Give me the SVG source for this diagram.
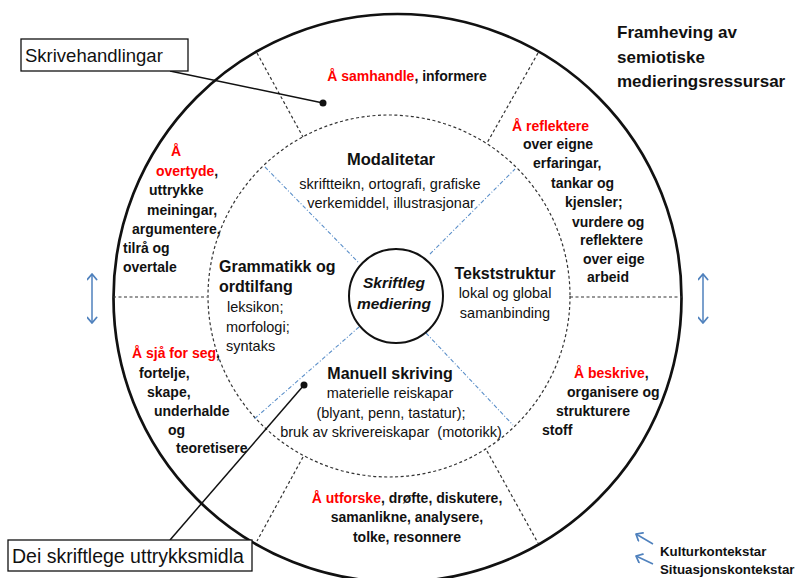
<svg xmlns="http://www.w3.org/2000/svg" width="798" height="578" viewBox="0 0 798 578">
<style>
text{font-family:"Liberation Sans",Arial,sans-serif;fill:#111}
.ob{font-weight:bold;font-size:14px}
.red{fill:#ff0000}
.ib{font-weight:bold;font-size:16px}
.ir{font-size:14.5px}
.ti{font-weight:bold;font-size:17px}
.lg{font-weight:bold;font-size:13.3px}
.dash{fill:none;stroke:#333;stroke-width:1.2;stroke-dasharray:3 2.5}
.blue{fill:none;stroke:#5b8fc9;stroke-width:1.1;stroke-dasharray:4 2 1 2}
.arr{fill:none;stroke:#4f81bd;stroke-width:1.5}
.box{fill:#fff;stroke:#111;stroke-width:1.3}
.ptr{fill:none;stroke:#111;stroke-width:1.5}
</style>
<defs>
<marker id="chev" viewBox="0 0 10 10" refX="9" refY="5" markerWidth="11" markerHeight="11" orient="auto-start-reverse" markerUnits="userSpaceOnUse">
<path d="M4,0.8 L9,5 L4,9.2" fill="none" stroke="#4f81bd" stroke-width="1.6" stroke-linecap="round" stroke-linejoin="round"/>
</marker>
</defs>
<rect width="798" height="578" fill="#fff"/>

<g id="rings">
<circle cx="397.5" cy="298" r="284" fill="none" stroke="#111" stroke-width="2.7"/>
<circle cx="389" cy="296" r="181" class="dash"/>
<line x1="113" y1="297" x2="207" y2="297" class="dash"/>
<line x1="570" y1="297" x2="682" y2="297" class="dash"/>
<line x1="257" y1="53" x2="303" y2="137" class="dash"/>
<line x1="538" y1="53" x2="487" y2="143" class="dash"/>
<line x1="303" y1="457" x2="257" y2="541" class="dash"/>
<line x1="487" y1="451" x2="538" y2="543" class="dash"/>
<line x1="265" y1="167" x2="358" y2="262" class="blue"/>
<line x1="430" y1="254" x2="515" y2="169" class="blue"/>
<line x1="426" y1="333" x2="513" y2="425" class="blue"/>
<line x1="359" y1="327" x2="253" y2="420" class="blue"/>
</g>

<g id="centre">
<circle cx="396" cy="296" r="47" fill="#fff" stroke="#111" stroke-width="2"/>
<text x="394" y="288" text-anchor="middle" style="font-weight:bold;font-style:italic;font-size:15.5px">Skriftleg</text>
<text x="394" y="309" text-anchor="middle" style="font-weight:bold;font-style:italic;font-size:15.5px">mediering</text>
</g>

<g id="modalitetar">
<text x="391" y="165" text-anchor="middle" class="ib" style="font-size:16.5px">Modalitetar</text>
<text x="390" y="189" text-anchor="middle" class="ir">skriftteikn, ortografi, grafiske</text>
<text x="391" y="208" text-anchor="middle" class="ir">verkemiddel, illustrasjonar</text>
</g>

<g id="grammatikk">
<text x="219" y="272" class="ib">Grammatikk og</text>
<text x="219" y="292" class="ib">ordtilfang</text>
<text x="227" y="312" class="ir">leksikon;</text>
<text x="226" y="332" class="ir">morfologi;</text>
<text x="226" y="351" class="ir">syntaks</text>
</g>

<g id="tekststruktur">
<text x="505" y="279" text-anchor="middle" class="ib">Tekststruktur</text>
<text x="505" y="298" text-anchor="middle" class="ir">lokal og global</text>
<text x="505" y="318" text-anchor="middle" class="ir">samanbinding</text>
</g>

<g id="manuell">
<text x="390" y="379" text-anchor="middle" class="ib">Manuell skriving</text>
<text x="390" y="398" text-anchor="middle" class="ir">materielle reiskapar</text>
<text x="391" y="418" text-anchor="middle" class="ir">(blyant, penn, tastatur);</text>
<text x="391" y="437" text-anchor="middle" class="ir" xml:space="preserve">bruk av skrivereiskapar  (motorikk)</text>
</g>

<g id="samhandle">
<text x="407" y="81" text-anchor="middle" class="ob"><tspan class="red">Å samhandle</tspan>, informere</text>
</g>

<g id="overtyde">
<text x="171" y="156" class="ob red">Å</text>
<text x="156" y="176" class="ob"><tspan class="red">overtyde</tspan>,</text>
<text x="149" y="195" class="ob">uttrykke</text>
<text x="147" y="215" class="ob">meiningar,</text>
<text x="132" y="234" class="ob">argumentere,</text>
<text x="123" y="253" class="ob">tilrå og</text>
<text x="123" y="272" class="ob">overtale</text>
</g>

<g id="reflektere">
<text x="512" y="131" class="ob red">Å reflektere</text>
<text x="523" y="149" class="ob">over eigne</text>
<text x="533" y="168" class="ob">erfaringar,</text>
<text x="551" y="188" class="ob">tankar og</text>
<text x="565" y="207" class="ob">kjensler;</text>
<text x="572" y="227" class="ob">vurdere og</text>
<text x="580" y="245" class="ob">reflektere</text>
<text x="583" y="264" class="ob">over eige</text>
<text x="587" y="282" class="ob">arbeid</text>
</g>

<g id="beskrive">
<text x="574" y="378" class="ob"><tspan class="red">Å beskrive</tspan>,</text>
<text x="567" y="397" class="ob">organisere og</text>
<text x="556" y="416" class="ob">strukturere</text>
<text x="542" y="435" class="ob">stoff</text>
</g>

<g id="sjaa">
<text x="132" y="358" class="ob"><tspan class="red">Å sjå for seg</tspan>,</text>
<text x="139" y="378" class="ob">fortelje,</text>
<text x="147" y="397" class="ob">skape,</text>
<text x="154" y="416" class="ob">underhalde</text>
<text x="168" y="435" class="ob">og</text>
<text x="176" y="453" class="ob">teoretisere</text>
</g>

<g id="utforske">
<text x="407" y="503" text-anchor="middle" class="ob"><tspan class="red">Å utforske</tspan>, drøfte, diskutere,</text>
<text x="407" y="522" text-anchor="middle" class="ob">samanlikne, analysere,</text>
<text x="407" y="542" text-anchor="middle" class="ob">tolke, resonnere</text>
</g>

<g id="title">
<text x="617" y="38" class="ti">Framheving av</text>
<text x="617" y="63" class="ti">semiotiske</text>
<text x="617" y="87" class="ti">medieringsressursar</text>
</g>

<g id="connectors">
<line x1="170" y1="71" x2="323" y2="103" class="ptr"/>
<circle cx="323" cy="103" r="3.5" fill="#111"/>
<line x1="170" y1="540" x2="304" y2="385" class="ptr"/>
<circle cx="304" cy="385" r="3.5" fill="#111"/>
<line x1="92" y1="274" x2="92" y2="323" class="arr" marker-start="url(#chev)" marker-end="url(#chev)"/>
<line x1="703" y1="274" x2="703" y2="323" class="arr" marker-start="url(#chev)" marker-end="url(#chev)"/>
<line x1="653" y1="544" x2="636" y2="534" class="arr" marker-end="url(#chev)"/>
<line x1="653" y1="564" x2="636" y2="556" class="arr" marker-end="url(#chev)"/>
</g>

<g id="skrivehandlingar">
<rect x="21" y="39" width="167" height="32" class="box"/>
<text x="25" y="62" style="font-size:18.5px">Skrivehandlingar</text>
</g>

<g id="uttrykksmidla">
<rect x="8" y="540" width="244" height="31" class="box"/>
<text x="12" y="563" style="font-size:19.5px">Dei skriftlege uttrykksmidla</text>
</g>

<g id="legend">
<text x="660" y="556" class="lg">Kulturkontekstar</text>
<text x="660" y="574" class="lg">Situasjonskontekstar</text>
</g>
</svg>
